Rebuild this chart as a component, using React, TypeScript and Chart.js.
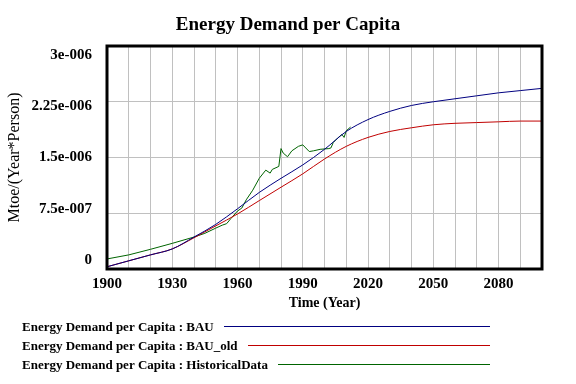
import React, { useEffect, useRef } from "react";
import { Chart, registerables } from "chart.js";

Chart.register(...registerables);

const chartTitle = "Energy Demand per Capita";
const xAxisTitle = "Time (Year)";
const yAxisTitle = "Mtoe/(Year*Person)";
const xTickLabels = ["1900", "1930", "1960", "1990", "2020", "2050", "2080"];
const yTickLabels = ["0", "7.5e-007", "1.5e-006", "2.25e-006", "3e-006"];

const seriesNames = [
  "Energy Demand per Capita : BAU",
  "Energy Demand per Capita : BAU_old",
  "Energy Demand per Capita : HistoricalData",
];

const scenarioYears = [
  1900, 1910, 1920, 1930, 1940, 1950, 1960, 1970, 1980, 1990, 2000,
  2010, 2020, 2030, 2040, 2050, 2060, 2070, 2080, 2090, 2100,
];
const bauValues = [
  0.03e-6, 0.11e-6, 0.19e-6, 0.27e-6, 0.43e-6, 0.6e-6, 0.81e-6, 1.03e-6, 1.22e-6, 1.4e-6, 1.61e-6,
  1.85e-6, 2.01e-6, 2.12e-6, 2.2e-6, 2.25e-6, 2.29e-6, 2.33e-6, 2.37e-6, 2.4e-6, 2.43e-6,
];
const bauOldValues = [
  0.03e-6, 0.11e-6, 0.19e-6, 0.27e-6, 0.42e-6, 0.58e-6, 0.74e-6, 0.92e-6, 1.1e-6, 1.28e-6, 1.48e-6,
  1.65e-6, 1.77e-6, 1.85e-6, 1.9e-6, 1.94e-6, 1.96e-6, 1.97e-6, 1.98e-6, 1.99e-6, 1.99e-6,
];

const histYears = [
  1900, 1910, 1920, 1930, 1940, 1945, 1950, 1953, 1955, 1957, 1960, 1962, 1964, 1967, 1970,
  1973, 1975, 1976, 1979, 1980, 1981, 1983, 1985, 1988, 1990, 1993, 1995, 1998, 2002, 2003,
  2004, 2006, 2008, 2009, 2010, 2012,
];
const histValues = [
  0.135e-6, 0.19e-6, 0.265e-6, 0.345e-6, 0.43e-6, 0.48e-6, 0.55e-6, 0.59e-6, 0.61e-6, 0.68e-6,
  0.78e-6, 0.82e-6, 0.93e-6, 1.06e-6, 1.22e-6, 1.33e-6, 1.29e-6, 1.34e-6, 1.38e-6, 1.62e-6,
  1.56e-6, 1.51e-6, 1.59e-6, 1.65e-6, 1.67e-6, 1.58e-6, 1.59e-6, 1.61e-6, 1.62e-6, 1.63e-6,
  1.7e-6, 1.76e-6, 1.81e-6, 1.77e-6, 1.86e-6, 1.91e-6,
];

const seriesColors = ["#000080", "#c00000", "#006400"];
const SERIF = '"Liberation Serif", "Times New Roman", serif';
const GRID = "#c0c0c0";

const framePlugin = {
  id: "vensimFrame",
  afterDatasetsDraw(chart: any) {
    const { ctx, chartArea: a } = chart;
    ctx.save();
    ctx.strokeStyle = "#000";
    ctx.lineWidth = 3;
    ctx.strokeRect(a.left, a.top, a.right - a.left, a.bottom - a.top);
    ctx.restore();
  },
  afterDraw(chart: any) {
    const ctx = chart.ctx;
    ctx.save();
    ctx.font = `bold 13px ${SERIF}`;
    ctx.textBaseline = "alphabetic";
    ctx.textAlign = "left";
    chart.data.datasets.forEach((ds: any, i: number) => {
      const y = 331 + i * 19;
      ctx.fillStyle = "#000";
      ctx.fillText(ds.label, 22, y);
      const w = ctx.measureText(ds.label).width;
      ctx.strokeStyle = ds.borderColor;
      ctx.lineWidth = 1;
      ctx.beginPath();
      ctx.moveTo(Math.round(22 + w + 10), y - 4.5);
      ctx.lineTo(490, y - 4.5);
      ctx.stroke();
    });
    ctx.restore();
  },
};

export default function App() {
  const canvasRef = useRef<HTMLCanvasElement | null>(null);

  useEffect(() => {
    if (!canvasRef.current) return;
    const toPts = (xs: number[], ys: number[]) => xs.map((x, i) => ({ x, y: ys[i] }));
    const tickFont = { family: SERIF, size: 15, weight: "bold" };
    const chart = new Chart(canvasRef.current, {
      type: "line",
      data: {
        datasets: [
          {
            label: seriesNames[0],
            data: toPts(scenarioYears, bauValues),
            borderColor: seriesColors[0],
            borderWidth: 1,
            pointRadius: 0,
            cubicInterpolationMode: "monotone",
            yAxisID: "y",
          },
          {
            label: seriesNames[1],
            data: toPts(scenarioYears, bauOldValues),
            borderColor: seriesColors[1],
            borderWidth: 1,
            pointRadius: 0,
            cubicInterpolationMode: "monotone",
            yAxisID: "y",
          },
          {
            label: seriesNames[2],
            data: toPts(histYears, histValues),
            borderColor: seriesColors[2],
            borderWidth: 1,
            pointRadius: 0,
            tension: 0,
            yAxisID: "y",
          },
        ],
      },
      options: {
        animation: false,
        responsive: false,
        devicePixelRatio: 1,
        layout: { padding: { left: 0, right: 0, top: 0, bottom: 70 } },
        plugins: {
          legend: { display: false },
          tooltip: { enabled: false },
          title: {
            display: true,
            text: chartTitle,
            color: "#000",
            font: { family: SERIF, size: 19, weight: "bold" },
            padding: { top: 13.3, bottom: 9.9 },
          },
        },
        scales: {
          x: {
            type: "linear",
            min: 1900,
            max: 2100,
            grid: { color: GRID, drawTicks: false },
            border: { display: false },
            ticks: {
              stepSize: 10,
              autoSkip: false,
              maxRotation: 0,
              padding: 6,
              color: "#000",
              font: tickFont,
              callback: (v: any) => {
                const s = String(Math.round(Number(v)));
                return xTickLabels.includes(s) ? s : "";
              },
            },
            title: {
              display: true,
              text: xAxisTitle,
              color: "#000",
              font: { family: SERIF, size: 14, weight: "bold" },
              padding: { top: 0, bottom: 2.6 },
            },
            afterFit: (s: any) => {
              s.height = 45;
            },
          },
          y: {
            type: "linear",
            position: "left",
            min: 0,
            max: 3e-6,
            grid: { color: GRID, drawTicks: false },
            border: { display: false },
            ticks: { stepSize: 7.5e-7, display: false },
            afterFit: (s: any) => {
              s.width = 0;
            },
          },
          yl: {
            type: "linear",
            position: "left",
            min: -0.1756,
            max: 4.1756,
            grid: { display: false, drawTicks: false },
            border: { display: false },
            ticks: {
              stepSize: 1,
              includeBounds: false,
              padding: 15,
              color: "#000",
              font: tickFont,
              callback: (v: any) => yTickLabels[Math.round(Number(v))] ?? "",
            },
            title: {
              display: true,
              text: yAxisTitle,
              color: "#000",
              font: { family: SERIF, size: 16 },
              padding: { top: 5, bottom: 0 },
            },
            afterFit: (s: any) => {
              s.width = 107;
            },
          },
          yr: {
            type: "linear",
            position: "right",
            min: 0,
            max: 1,
            grid: { display: false, drawTicks: false },
            border: { display: false },
            ticks: { display: false },
            afterFit: (s: any) => {
              s.width = 34;
            },
          },
        },
      },
      plugins: [framePlugin],
    } as any);
    return () => chart.destroy();
  }, []);

  return (
    <div style={{ position: "fixed", left: 0, top: 0, width: 576, height: 384, background: "#fff" }}>
      <canvas ref={canvasRef} width={576} height={384} style={{ display: "block" }} />
    </div>
  );
}
